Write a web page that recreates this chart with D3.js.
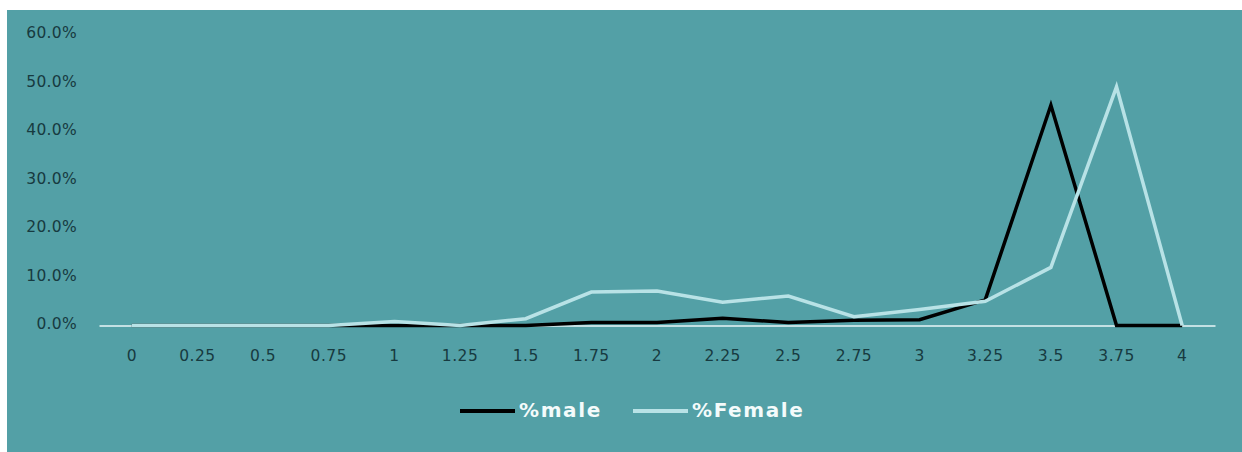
<!DOCTYPE html>
<html><head><meta charset="utf-8">
<script src="https://cdn.jsdelivr.net/npm/d3@7"></script>
<style>
html,body{margin:0;padding:0;background:#fff;}
svg{display:block;}
</style></head>
<body>
<svg id="chart" width="1242" height="452"></svg>
<script>
const categories = ["0","0.25","0.5","0.75","1","1.25","1.5","1.75","2","2.25","2.5","2.75","3","3.25","3.5","3.75","4"];
const maleValues = [0,0,0,0,0,0,0,0.006,0.006,0.015,0.006,0.011,0.012,0.053,0.455,0,0];
const femaleValues = [0,0,0,0,0.008,0,0.014,0.069,0.071,0.048,0.061,0.018,0.033,0.05,0.12,0.493,0];
const yTicks = [0,0.1,0.2,0.3,0.4,0.5,0.6];
const seriesNames = ["%male","%Female"];

const svg = d3.select("#chart");
svg.append("rect").attr("x",7).attr("y",10).attr("width",1235).attr("height",442).attr("fill","#53a0a6");

const x = d3.scaleBand().domain(categories).range([99,1215]);
const y = d3.scaleLinear().domain([0,0.6]).range([325.5,35]);

const labelFont = "'DejaVu Sans', sans-serif";

// y axis labels
const yAxis = d3.axisLeft(y).tickValues(yTicks).tickFormat(d3.format(".1%")).tickSize(0).tickPadding(0);
const gy = svg.append("g").attr("transform","translate(77,-2)").call(yAxis);
gy.select(".domain").remove();
gy.selectAll("text").attr("font-family",labelFont).attr("font-size",15.5).attr("letter-spacing",0.3).attr("fill","#173a40");

// x axis
const xAxis = d3.axisBottom(x).tickSize(0).tickPadding(0);
const gx = svg.append("g").attr("transform","translate(0,325.5)").call(xAxis);
gx.select(".domain").attr("stroke","#e8f6f7").attr("stroke-width",1.5);
gx.selectAll("text").attr("dy","0").attr("y",35).attr("font-family",labelFont).attr("font-size",15.5).attr("letter-spacing",0.5).attr("fill","#173a40");

const line = d3.line().x((d,i)=>x(categories[i])+x.bandwidth()/2).y(d=>y(d));
svg.append("path").datum(maleValues).attr("d",line).attr("fill","none").attr("stroke","#000").attr("stroke-width",3.5).attr("stroke-linejoin","miter");
svg.append("path").datum(femaleValues).attr("d",line).attr("fill","none").attr("stroke","#b8e2e6").attr("stroke-width",3.5).attr("stroke-linejoin","miter");

// legend
const legend = [
  {name: seriesNames[0], color:"#000", x0:460},
  {name: seriesNames[1], color:"#b8e2e6", x0:633}
];
const lg = svg.append("g");
legend.forEach(l=>{
  lg.append("line").attr("x1",l.x0).attr("x2",l.x0+55).attr("y1",411).attr("y2",411).attr("stroke",l.color).attr("stroke-width",4);
  lg.append("text").attr("x",l.x0+59).attr("y",417).text(l.name)
    .attr("font-family","'DejaVu Sans', sans-serif").attr("font-weight","bold").attr("font-size",20).attr("letter-spacing",1.6).attr("fill","#f4fbfb");
});
</script>
</body></html>
